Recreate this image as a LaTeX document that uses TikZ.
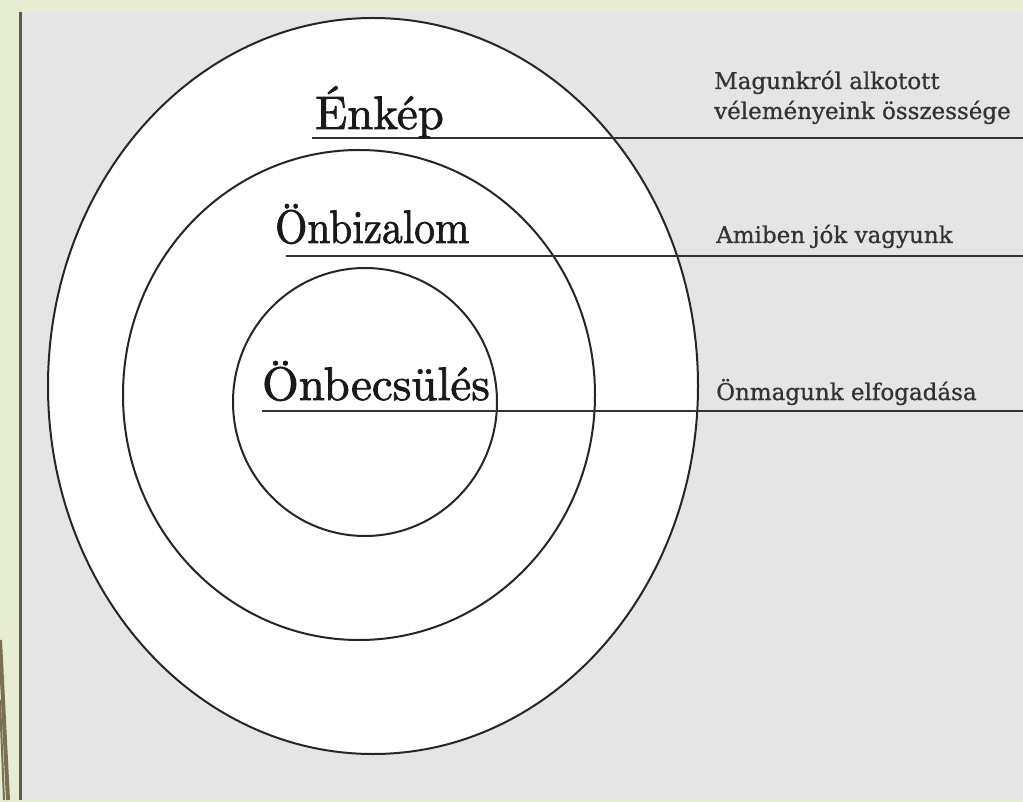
\documentclass[tikz,border=0pt]{standalone}
\usepackage{fontspec}
\newfontfamily\notefont{DejaVu Serif}[FakeBold=0.8]
\newfontfamily\headfont{lmroman10-regular.otf}[FakeBold=1.6]
\definecolor{panelgray}{HTML}{E5E5E5}
\definecolor{paleleaf}{HTML}{E6EDD3}
\definecolor{olive}{HTML}{7A7050}
\definecolor{edgegray}{HTML}{5A5A5A}
\begin{document}
\begin{tikzpicture}[x=1pt,y=-1pt,
  ring/.style={draw=black!85,line width=2pt,fill=white},
  title/.style={anchor=base west,inner sep=0pt,font=\headfont\fontsize{47}{47}\selectfont,text=black!90},
  note/.style={anchor=base west,inner sep=0pt,font=\notefont\fontsize{23}{28}\selectfont,text=black!80},
  rule/.style={draw=black!80,line width=1.6pt}]
  \useasboundingbox (0,0) rectangle (1023,802);
  % background and panel
  \fill[paleleaf] (0,0) rectangle (1023,802);
  \fill[panelgray] (19,12) rectangle (1023,800);
  \draw[edgegray,line width=2.5pt] (20.5,12) -- (20.5,800);
  \draw[olive,line width=4pt] (0,640) -- (8,800);
  \draw[olive,line width=2pt] (0,700) -- (4,800);
  % rings
  \draw[ring] (373,386) ellipse [x radius=325pt, y radius=368pt];
  \draw[ring] (359,395) ellipse [x radius=236pt, y radius=245pt];
  \draw[ring] (365,402) ellipse [x radius=132pt, y radius=134pt];
  % rules
  \coordinate (l1) at (312,138);
  \coordinate (r1) at (1023,138);
  \coordinate (l2) at (286,256);
  \coordinate (r2) at (1023,256);
  \coordinate (l3) at (262,411);
  \coordinate (r3) at (1023,411);
  \draw[rule] (l1) -- (r1);
  \draw[rule] (l2) -- (r2);
  \draw[rule] (l3) -- (r3);
  % titles
  \node[title] (enkep) at (315,129) {Énkép};
  \node[title] (bizalom) at (275,243) {\scalebox{0.88}[1]{Önbizalom}};
  \node[title] (becsules) at (262,400) {Önbecsülés};
  % notes
  \node[note] (note1a) at (714,89) {Magunkról alkotott};
  \node[note] (note1b) at (714,119) {véleményeink összessége};
  \node[note] (note2) at (716,243) {Amiben jók vagyunk};
  \node[note] (note3) at (716,400) {Önmagunk elfogadása};
\end{tikzpicture}
\end{document}
